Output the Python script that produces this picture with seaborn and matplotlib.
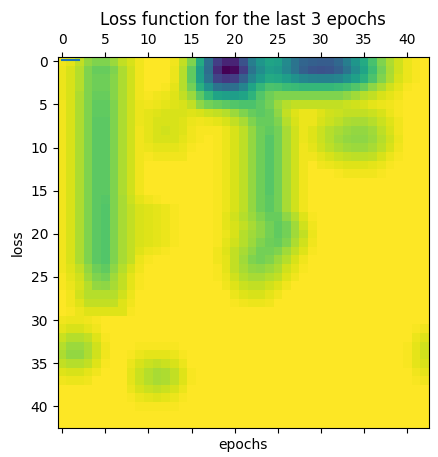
import matplotlib
matplotlib.use('Agg')
import matplotlib.pyplot as plt
import numpy as np
import seaborn as sns

# loss surface (percent of max), 43 x 43
loss_rows = [
    "97 95 90 83 80 80 84 90 93 97 99 99 99 97 90 80 60 36 18 10 10 25 42 52 58 56 47 38 32 30 29 29 33 42 52 60 70 80 87 92 96 98 99",
    "96 93 88 80 76 76 80 87 92 97 99 99 99 96 88 75 55 35 12 0 2 18 38 48 55 53 46 38 30 26 25 26 30 38 48 58 68 78 86 92 96 98 99",
    "96 93 88 80 77 77 81 87 92 97 99 99 99 96 88 75 56 38 20 16 18 30 45 54 60 59 55 50 46 44 43 43 45 50 56 63 71 80 87 93 96 98 99",
    "96 93 88 80 77 77 81 87 92 97 99 99 98 95 88 78 63 50 38 35 36 45 58 66 71 70 68 67 66 66 66 66 67 69 72 76 82 87 92 95 98 99 99",
    "96 93 87 80 76 76 81 87 92 97 98 97 96 94 90 84 74 65 58 56 55 58 64 72 77 80 80 80 80 80 80 80 80 82 85 88 90 93 95 97 99 99 99",
    "97 93 87 80 75 75 80 87 92 96 97 96 95 94 93 90 82 78 76 74 72 71 71 74 78 84 88 90 90 90 90 90 90 91 92 93 95 96 97 98 99 99 99",
    "97 93 87 80 75 75 80 87 92 96 95 94 93 93 93 94 93 91 90 88 84 80 76 74 76 82 90 94 96 96 94 92 91 90 90 90 91 93 96 98 99 99 99",
    "97 93 87 80 74 74 80 87 92 96 95 93 93 93 94 96 97 96 95 93 90 86 80 76 76 80 88 93 96 96 93 91 89 87 86 86 88 91 94 97 99 99 99",
    "97 93 87 80 74 74 80 87 92 97 95 93 92 93 94 97 98 98 98 96 93 89 83 77 75 78 86 92 96 94 91 88 86 84 83 83 85 89 93 97 99 99 99",
    "97 93 87 80 74 74 80 87 92 97 95 93 93 93 95 97 98 99 98 96 93 89 83 77 73 78 86 92 96 94 91 88 85 83 82 82 84 88 92 96 99 99 99",
    "97 93 87 80 74 74 80 87 92 97 96 95 95 95 96 98 99 99 98 96 93 89 83 77 73 78 86 92 97 95 92 89 87 85 84 84 86 89 93 97 99 99 99",
    "97 93 87 80 74 74 80 87 92 97 98 97 97 97 97 99 99 99 98 96 93 89 83 77 73 78 86 92 97 97 95 93 91 90 89 89 90 93 96 98 99 99 99",
    "97 93 87 80 74 74 80 87 92 97 99 99 99 99 99 99 99 99 98 96 93 89 83 77 73 78 86 92 97 99 97 96 95 94 94 94 95 96 98 99 99 99 99",
    "97 93 87 80 74 74 80 87 92 97 99 99 99 99 99 99 99 99 98 96 93 89 83 77 73 78 86 92 97 99 99 99 98 97 97 97 97 98 99 99 99 99 99",
    "97 93 87 80 74 74 80 87 92 97 99 99 99 99 99 99 99 99 98 96 93 89 83 77 73 78 86 92 97 99 99 99 99 99 99 99 99 99 99 99 99 99 99",
    "97 93 87 80 74 74 80 87 92 97 99 99 99 99 99 99 99 99 98 96 93 89 83 77 73 78 86 92 97 99 99 99 99 99 99 99 99 99 99 99 99 99 99",
    "97 93 87 80 74 73 80 86 91 95 97 98 99 99 99 99 99 99 98 96 93 89 83 77 74 78 86 92 97 99 99 99 99 99 99 99 99 99 99 99 99 99 99",
    "97 93 87 80 74 72 80 86 90 93 94 95 96 98 99 99 99 99 98 96 93 89 83 77 74 78 86 92 97 99 99 99 99 99 99 99 99 99 99 99 99 99 99",
    "97 93 87 80 74 72 80 86 90 93 94 95 96 98 99 99 99 99 98 95 92 88 84 80 76 76 82 88 94 98 99 99 99 99 99 99 99 99 99 99 99 99 99",
    "97 93 87 80 74 72 80 86 90 93 94 95 96 98 99 99 99 99 98 95 93 90 86 82 78 75 78 85 92 97 99 99 99 99 99 99 99 99 99 99 99 99 99",
    "97 93 87 80 74 72 80 86 90 93 94 95 96 98 99 99 99 99 98 96 93 88 85 82 78 75 78 85 90 96 99 99 99 99 99 99 99 99 99 99 99 99 99",
    "97 93 87 80 74 72 80 86 90 93 94 95 96 98 99 99 99 99 98 95 92 88 84 80 77 76 80 87 92 97 99 99 99 99 99 99 99 99 99 99 99 99 99",
    "97 93 87 80 74 72 80 86 90 94 96 97 98 99 99 99 99 99 97 94 90 86 82 78 78 80 85 90 94 98 99 99 99 99 99 99 99 99 99 99 99 99 99",
    "97 93 87 80 74 72 80 86 90 96 98 99 99 99 99 99 99 99 97 95 90 85 80 78 80 84 88 93 97 99 99 99 99 99 99 99 99 99 99 99 99 99 99",
    "97 94 90 83 77 75 82 88 93 97 99 99 99 99 99 99 99 99 98 95 90 86 83 82 84 87 92 95 98 99 99 99 99 99 99 99 99 99 99 99 99 99 99",
    "98 95 92 85 80 78 85 90 95 98 99 99 99 99 99 99 99 99 98 96 92 88 86 86 88 90 94 97 99 99 99 99 99 99 99 99 99 99 99 99 99 99 99",
    "98 96 93 88 83 82 86 90 95 98 99 99 99 99 99 99 99 99 99 97 94 91 90 90 92 94 97 99 99 99 99 99 99 99 99 99 99 99 99 99 99 99 99",
    "99 97 92 88 88 88 88 92 96 99 99 99 99 99 99 99 99 99 99 99 96 94 93 93 95 97 99 99 99 99 99 99 99 99 99 99 99 99 99 99 99 99 99",
    "99 97 94 90 90 90 90 94 97 99 99 99 99 99 99 99 99 99 99 99 98 97 96 96 97 99 99 99 99 99 99 99 99 99 99 99 99 99 99 99 99 99 99",
    "99 98 96 94 94 94 94 94 98 99 99 99 99 99 99 99 99 99 99 99 99 99 99 99 99 99 99 99 99 99 99 99 99 99 99 99 99 99 99 99 99 99 99",
    "97 96 96 97 98 99 99 99 99 99 99 99 99 99 99 99 99 99 99 99 99 99 99 99 99 99 99 99 99 99 99 99 99 99 99 99 99 99 99 99 99 99 99",
    "95 93 93 95 97 99 99 99 99 99 99 99 99 99 99 99 99 99 99 99 99 99 99 99 99 99 99 99 99 99 99 99 99 99 99 99 99 99 99 99 99 98 97",
    "91 88 88 90 94 98 99 99 99 99 99 99 99 99 99 99 99 99 99 99 99 99 99 99 99 99 99 99 99 99 99 99 99 99 99 99 99 99 99 99 99 96 94",
    "88 84 84 87 92 97 99 99 99 98 98 98 98 98 99 99 99 99 99 99 99 99 99 99 99 99 99 99 99 99 99 99 99 99 99 99 99 99 99 99 98 95 92",
    "87 83 83 87 92 97 99 99 98 96 95 95 95 96 98 99 99 99 99 99 99 99 99 99 99 99 99 99 99 99 99 99 99 99 99 99 99 99 99 99 98 95 92",
    "90 88 88 90 94 98 99 99 96 93 91 90 91 93 96 99 99 99 99 99 99 99 99 99 99 99 99 99 99 99 99 99 99 99 99 99 99 99 99 99 98 95 93",
    "94 93 93 95 97 99 99 99 95 91 88 86 87 90 94 98 99 99 99 99 99 99 99 99 99 99 99 99 99 99 99 99 99 99 99 99 99 99 99 99 99 97 95",
    "97 96 96 97 99 99 99 99 95 91 88 86 87 90 94 98 99 99 99 99 99 99 99 99 99 99 99 99 99 99 99 99 99 99 99 99 99 99 99 99 99 98 97",
    "99 99 99 99 99 99 99 99 96 93 91 90 91 93 96 99 99 99 99 99 99 99 99 99 99 99 99 99 99 99 99 99 99 99 99 99 99 99 99 99 99 99 99",
    "99 99 99 99 99 99 99 99 98 96 95 94 95 96 98 99 99 99 99 99 99 99 99 99 99 99 99 99 99 99 99 99 99 99 99 99 99 99 99 99 99 99 99",
    "99 99 99 99 99 99 99 99 99 98 98 98 98 98 99 99 99 99 99 99 99 99 99 99 99 99 99 99 99 99 99 99 99 99 99 99 99 99 99 99 99 99 99",
    "99 99 99 99 99 99 99 99 99 99 99 99 99 99 99 99 99 99 99 99 99 99 99 99 99 99 99 99 99 99 99 99 99 99 99 99 99 99 99 99 99 99 99",
    "99 99 99 99 99 99 99 99 99 99 99 99 99 99 99 99 99 99 99 99 99 99 99 99 99 99 99 99 99 99 99 99 99 99 99 99 99 99 99 99 99 99 99",
]

# losses of the last 3 epochs (the short line in the corner)
last_epochs = [0, 1, 2]
last_losses = [-0.15, -0.15, -0.15]

tick_values = list(range(0, 41, 5))

grid = np.array([[int(v) for v in row.split()] for row in loss_rows]) / 100.0

fig = plt.figure(figsize=(4.38, 4.57), dpi=100)
ax = fig.add_axes([0.130, 0.0635, 0.851, 0.8118])

sns.heatmap(grid, cmap='viridis', cbar=False, square=True, ax=ax,
            xticklabels=False, yticklabels=False)

# matshow-like axes: ticks on cell centres, labels on top
ax.set_xticks(np.array(tick_values) + 0.5)
ax.set_xticklabels([str(t) for t in tick_values], rotation=0)
ax.set_yticks(np.array(tick_values) + 0.5)
ax.set_yticklabels([str(t) for t in tick_values], rotation=0)
ax.tick_params(axis='x', top=True, bottom=True, labeltop=True, labelbottom=False,
               length=3.5, width=0.8, labelsize=10)
ax.tick_params(axis='y', left=True, labelleft=True, length=3.5, width=0.8, labelsize=10)
for s in ax.spines.values():
    s.set_visible(True)
    s.set_linewidth(0.8)
    s.set_color('black')

ax.plot(np.array(last_epochs) + 0.5, np.array(last_losses) + 0.5, color='#1f77b4', lw=1.5)

ax.set_title('Loss function for the last 3 epochs', fontsize=12)
ax.set_xlabel('epochs', fontsize=10)
ax.set_ylabel('loss', fontsize=10)

fig.savefig('out.png', dpi=100)
